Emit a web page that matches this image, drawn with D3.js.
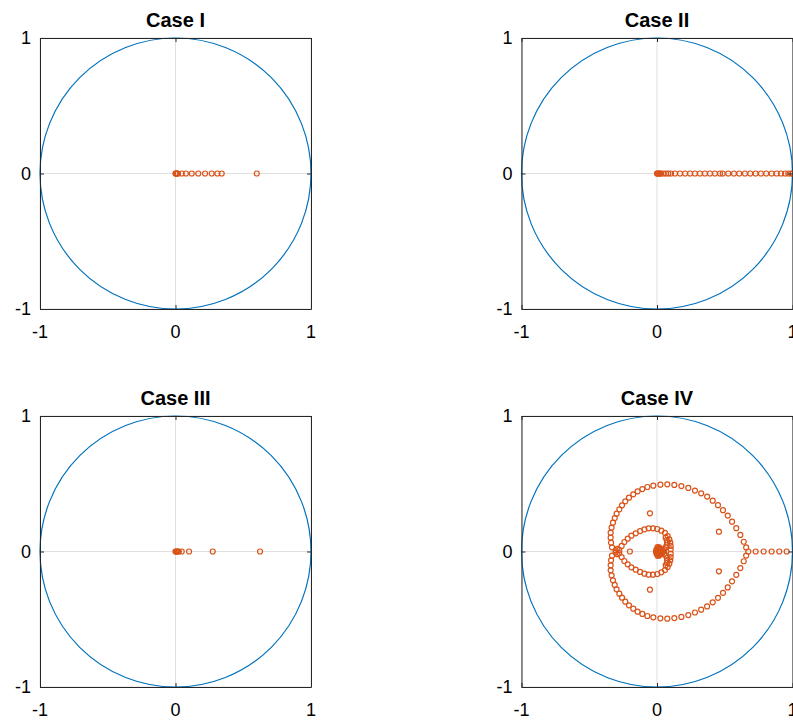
<!DOCTYPE html>
<html>
<head>
<meta charset="utf-8">
<script src="https://cdn.jsdelivr.net/npm/d3@7"></script>
<style>
    body { margin: 0; background: #fff; overflow: hidden; }
    text { font-family: "Liberation Sans", Arial, sans-serif; fill: #000; }
</style>
</head>
<body>
<div id="chart"></div>
<script>
const caseIRe = [0, 0.003, 0.007, 0.012, 0.018, 0.046, 0.077, 0.120, 0.168, 0.218, 0.267, 0.309, 0.341, 0.6];
const caseIIRe = [0, 0.004, 0.009, 0.015, 0.022, 0.030, 0.047, 0.066, 0.084, 0.103, 0.133, 0.170, 0.207, 0.244,
    0.280, 0.317, 0.354, 0.391, 0.428, 0.465, 0.485, 0.526, 0.568, 0.607, 0.649, 0.688, 0.728, 0.767,
    0.806, 0.846, 0.883, 0.915, 0.945, 0.969, 0.989, 1.0];
const caseIIIRe = [0, 0.005, 0.011, 0.018, 0.025, 0.046, 0.1, 0.275, 0.624];

// Case IV: points on the real axis, then upper half-plane points (conjugates are added below)
const caseIVRealAxis = [0.674, 0.728, 0.787, 0.846, 0.902, 0.957, -0.2];
const outerRe = [-0.332, -0.339, -0.342, -0.342, -0.335, -0.325, -0.312, -0.298, -0.278, -0.258, -0.234, -0.207,
    -0.175, -0.143, -0.108, -0.071, -0.027, 0.025, 0.076, 0.128, 0.180, 0.231, 0.280, 0.326, 0.370,
    0.411, 0.450, 0.487, 0.522, 0.554, 0.585, 0.615, 0.640, 0.658];
const outerIm = [0.031, 0.065, 0.102, 0.139, 0.176, 0.213, 0.247, 0.279, 0.311, 0.341, 0.370, 0.397,
    0.422, 0.444, 0.461, 0.476, 0.486, 0.493, 0.496, 0.491, 0.483, 0.469, 0.450, 0.429, 0.405,
    0.375, 0.342, 0.305, 0.265, 0.220, 0.172, 0.122, 0.072, 0.030];
const innerRe = [-0.305, -0.292, -0.278, -0.261, -0.241, -0.216, -0.189, -0.157, -0.125, -0.093, -0.062, -0.030,
    0.002, 0.032, 0.059, 0.079, 0.091, 0.098, 0.101, 0.101];
const innerIm = [0.008, 0.020, 0.011, 0.041, 0.070, 0.095, 0.117, 0.134, 0.151, 0.164, 0.171, 0.171,
    0.166, 0.154, 0.137, 0.114, 0.090, 0.065, 0.041, 0.016];
const loopRe = [0.045, 0.055, 0.065, 0.072, 0.075, 0.072, 0.064];
const loopIm = [0.004, 0.015, 0.030, 0.047, 0.065, 0.085, 0.102];
const clusterRe = [0, 0.008, 0.016, 0.024, 0.032, -0.008, 0.004, 0.012, 0.020, 0.028, 0.036, -0.004, 0.008, 0.018, 0.028, 0.004, 0.016];
const clusterIm = [0, 0, 0, 0, 0, 0, 0.010, 0.012, 0.011, 0.010, 0.008, 0.014, 0.024, 0.022, 0.020, 0.032, 0.030];
const isolatedRe = [-0.052, 0.457];
const isolatedIm = [0.282, 0.146];

const tickValues = [-1, 0, 1];
const titles = ['Case I', 'Case II', 'Case III', 'Case IV'];

// build a list of {re, im} points for each case
function onAxis(values) {
    return values.map(v => ({ re: v, im: 0 }));
}

function withConjugates(re, im) {
    const pts = [];
    re.forEach((r, i) => {
        pts.push({ re: r, im: im[i] });
        if (im[i] !== 0) pts.push({ re: r, im: -im[i] });
    });
    return pts;
}

const caseIV = onAxis(caseIVRealAxis)
    .concat(withConjugates(outerRe, outerIm))
    .concat(withConjugates(innerRe, innerIm))
    .concat(withConjugates(loopRe, loopIm))
    .concat(withConjugates(clusterRe, clusterIm))
    .concat(withConjugates(isolatedRe, isolatedIm));

const datasets = [onAxis(caseIRe), onAxis(caseIIRe), onAxis(caseIIIRe), caseIV];

// page layout
const width = 793;
const height = 721;
const size = 271;
const lefts = [40, 521.5];
const tops = [38, 416];

const svg = d3.select('#chart').append('svg')
    .attr('width', width)
    .attr('height', height);

function drawPanel(points, title, left, top) {
    const x = d3.scaleLinear().domain([-1, 1]).range([0, size]);
    const y = d3.scaleLinear().domain([-1, 1]).range([size, 0]);

    const g = svg.append('g')
        .attr('transform', `translate(${left}, ${top})`);

    // grid lines at the ticks
    g.selectAll('.gx')
        .data(tickValues)
        .enter().append('line')
        .attr('x1', d => x(d)).attr('x2', d => x(d))
        .attr('y1', 0).attr('y2', size)
        .attr('stroke', '#dfdfdf')
        .attr('stroke-width', 1);
    g.selectAll('.gy')
        .data(tickValues)
        .enter().append('line')
        .attr('y1', d => y(d)).attr('y2', d => y(d))
        .attr('x1', 0).attr('x2', size)
        .attr('stroke', '#dfdfdf')
        .attr('stroke-width', 1);

    // unit circle
    g.append('circle')
        .attr('cx', x(0))
        .attr('cy', y(0))
        .attr('r', x(1) - x(0))
        .attr('fill', 'none')
        .attr('stroke', '#0072BD')
        .attr('stroke-width', 1.2);

    // eigenvalue markers
    g.selectAll('.pt')
        .data(points)
        .enter().append('circle')
        .attr('cx', d => x(d.re))
        .attr('cy', d => y(d.im))
        .attr('r', 2.5)
        .attr('fill', 'none')
        .attr('stroke', '#D95319')
        .attr('stroke-width', 1.2);

    // axes with inward ticks on all sides (box on)
    const tick = -4;
    g.append('g').attr('transform', `translate(0, ${size})`)
        .call(d3.axisBottom(x).tickValues(tickValues).tickSizeInner(tick).tickSizeOuter(0).tickFormat(''));
    g.append('g')
        .call(d3.axisTop(x).tickValues(tickValues).tickSizeInner(tick).tickSizeOuter(0).tickFormat(''));
    g.append('g')
        .call(d3.axisLeft(y).tickValues(tickValues).tickSizeInner(tick).tickSizeOuter(0).tickFormat(''));
    g.append('g').attr('transform', `translate(${size}, 0)`)
        .call(d3.axisRight(y).tickValues(tickValues).tickSizeInner(tick).tickSizeOuter(0).tickFormat(''));
    g.selectAll('.domain, .tick line').attr('stroke', '#262626').attr('stroke-width', 1);

    // tick labels
    g.selectAll('.xl')
        .data(tickValues)
        .enter().append('text')
        .attr('x', d => x(d))
        .attr('y', size + 29)
        .attr('text-anchor', 'middle')
        .style('font-size', '18px')
        .text(d => d);
    g.selectAll('.yl')
        .data(tickValues)
        .enter().append('text')
        .attr('x', -9)
        .attr('y', d => y(d) + 6)
        .attr('text-anchor', 'end')
        .style('font-size', '18px')
        .text(d => d);

    // title
    g.append('text')
        .attr('x', size / 2)
        .attr('y', -11)
        .attr('text-anchor', 'middle')
        .style('font-size', '20px')
        .style('font-weight', 'bold')
        .text(title);
}

datasets.forEach((pts, i) => {
    drawPanel(pts, titles[i], lefts[i % 2], tops[Math.floor(i / 2)]);
});
</script>
</body>
</html>
